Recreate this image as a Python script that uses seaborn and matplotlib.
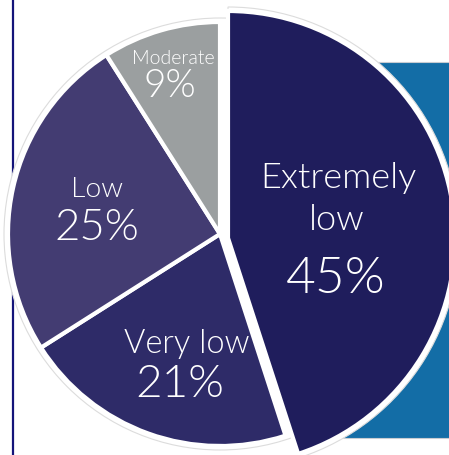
import matplotlib
matplotlib.use("Agg")
import matplotlib.pyplot as plt
import matplotlib.patches as mpatches
import seaborn as sns

# --------------------------------------------
# Data
# --------------------------------------------
categories = ["Extremely low", "Very low", "Low", "Moderate"]
shares = [45, 21, 25, 9]
label_lines = [["Extremely", "low"], ["Very low"], ["Low"], ["Moderate"]]
slice_colors = ["#1f1d5c", "#2e2b68", "#433c72", "#9b9fa0"]

# --------------------------------------------
# Style
# --------------------------------------------
sns.set_theme(style="white")
plt.rcParams["font.family"] = ["Lato", "DejaVu Sans"]

W, H = 449, 456
fig = plt.figure(figsize=(W / 100, H / 100), dpi=100)
ax = fig.add_axes([0, 0, 1, 1])

def iy(y):
    # image row -> data y
    return H - y

# background blue panel
ax.add_patch(mpatches.Rectangle((300, iy(439)), 200, 376, facecolor="#136da6",
                                edgecolor="#c8ccd2", linewidth=0.8, zorder=0))

# left rule
ax.plot([13, 13], [0, H], color="#14147a", linewidth=1.6, zorder=0)

# main pie (first slice hidden, it is drawn exploded below)
main_center = (220, iy(235))
main_r = 212
big_center = (228, iy(239))
big_r = 227

ax.add_patch(mpatches.Circle(main_center, main_r + 4, facecolor="white",
                             edgecolor="#dcdcdc", linewidth=0.8, zorder=1))
ax.add_patch(mpatches.Wedge(big_center, big_r + 4, -72, 90, facecolor="white",
                            edgecolor="#dcdcdc", linewidth=0.8, zorder=1))

main_colors = ["none"] + slice_colors[1:]
wedges, _ = ax.pie(shares, colors=main_colors, startangle=90, counterclock=False,
                   center=main_center, radius=main_r,
                   wedgeprops=dict(edgecolor="white", linewidth=3.0))
wedges[0].set_edgecolor("none")
for w in wedges:
    w.set_zorder(2)

big_colors = [slice_colors[0]] + ["none"] * 3
wedges2, _ = ax.pie(shares, colors=big_colors, startangle=90, counterclock=False,
                    center=big_center, radius=big_r,
                    wedgeprops=dict(edgecolor="white", linewidth=3.0))
for w in wedges2[1:]:
    w.set_edgecolor("none")
for w in wedges2:
    w.set_zorder(3)

# --------------------------------------------
# Labels
# --------------------------------------------
txt = dict(color="white", ha="center", va="baseline", zorder=5, fontweight=300)
ax.text(338, iy(188), label_lines[0][0], fontsize=26, **txt)
ax.text(337, iy(230), label_lines[0][1], fontsize=26, **txt)
ax.text(336, iy(293), f"{shares[0]}%", fontsize=37, **txt)

ax.text(186.5, iy(353), label_lines[1][0], fontsize=23.5, **txt)
ax.text(179.5, iy(397), f"{shares[1]}%", fontsize=33, **txt)

ax.text(97.5, iy(197), label_lines[2][0], fontsize=20.5, **txt)
ax.text(97, iy(240.5), f"{shares[2]}%", fontsize=31.5, **txt)

ax.text(173, iy(64), label_lines[3][0], fontsize=14, **txt)
ax.text(170, iy(97), f"{shares[3]}%", fontsize=28, **txt)

ax.set_xlim(0, W)
ax.set_ylim(0, H)
ax.set_aspect("equal")
ax.axis("off")

fig.savefig("out.png", dpi=100)
